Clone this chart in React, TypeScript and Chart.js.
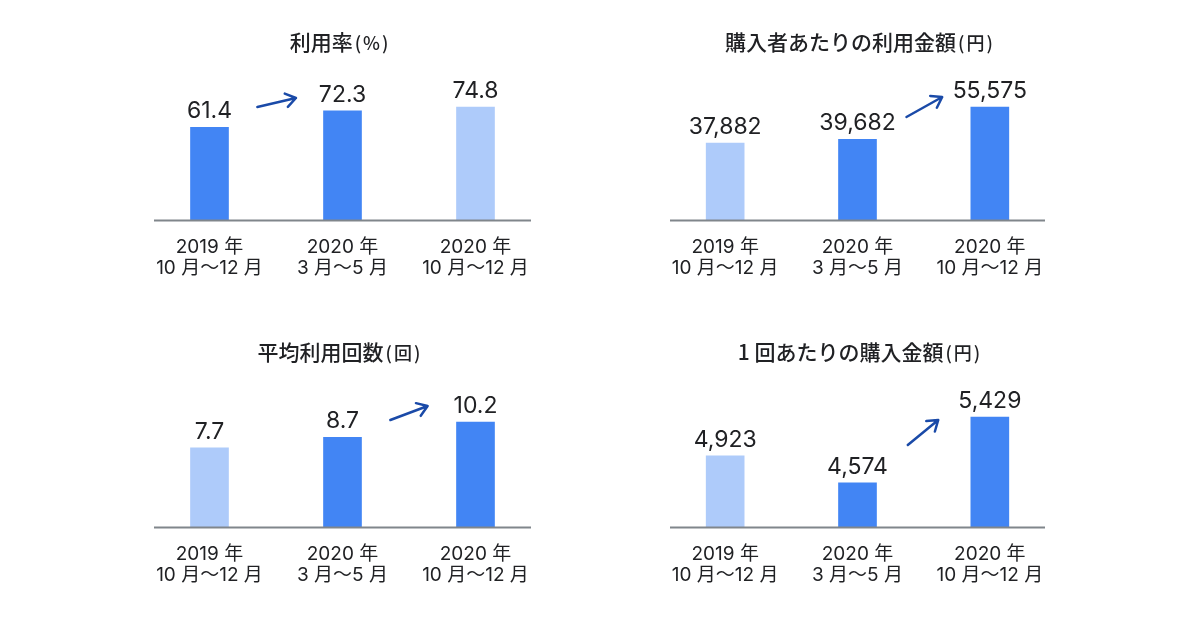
import { useEffect, useRef } from 'react';
import { Chart, registerables, Plugin } from 'chart.js';

Chart.register(...registerables);

const periodLabels = [
  ['2019 年', '10 月〜12 月'],
  ['2020 年', '3 月〜5 月'],
  ['2020 年', '10 月〜12 月'],
];

const usageRate = [61.4, 72.3, 74.8];
const spendPerBuyer = [37882, 39682, 55575];
const usesPerBuyer = [7.7, 8.7, 10.2];
const spendPerUse = [4923, 4574, 5429];

// which bars are drawn in the strong blue
const usageRateDark = [true, true, false];
const spendPerBuyerDark = [false, true, true];
const usesPerBuyerDark = [false, true, true];
const spendPerUseDark = [false, true, true];

// arrows: [category position, value] -> [category position, value]
const usageRateArrow = [[0.36, 74.8], [0.65, 80.8]];
const spendPerBuyerArrow = [[1.37, 50660], [1.64, 60490]];
const usesPerBuyerArrow = [[1.36, 10.39], [1.64, 11.75]];
const spendPerUseArrow = [[1.38, 5065], [1.61, 5390]];

const DARK = '#4285f4';
const LIGHT = '#aecbfa';
const INK = '#202124';
const FONT = "Inter, 'Noto Sans CJK JP', sans-serif";
const CJK = "'Noto Sans CJK JP', sans-serif";

interface PanelProps {
  title: string;
  unit: string;
  values: number[];
  dark: boolean[];
  arrow: number[][];
  yMin: number;
  yMax: number;
  decimals: number;
  left: number;
  top: number;
  height: number;
  padLeft: number;
  padRight: number;
}

function Panel(props: PanelProps) {
  const canvasRef = useRef<HTMLCanvasElement>(null);

  useEffect(() => {
    const ctx = canvasRef.current?.getContext('2d');
    if (!ctx) return;

    const fmt = (v: number) =>
      props.decimals > 0 ? v.toFixed(props.decimals) : v.toLocaleString('en-US');

    const extras: Plugin<'bar'> = {
      id: 'extras',
      afterDatasetsDraw(chart) {
        const c = chart.ctx;
        const area = chart.chartArea;
        const x = chart.scales.x;
        const y = chart.scales.y;

        c.save();

        // title with a smaller unit after it
        c.fillStyle = INK;
        c.textBaseline = 'alphabetic';
        c.textAlign = 'left';
        c.font = `500 21px ${CJK}`;
        const mainW = c.measureText(props.title).width;
        c.font = `500 18px ${CJK}`;
        (c as any).letterSpacing = '2px';
        const unitW = c.measureText(props.unit).width;
        const tx = chart.width / 2 - (mainW + 2 + unitW) / 2;
        (c as any).letterSpacing = '0px';
        c.font = `500 21px ${CJK}`;
        c.fillText(props.title, tx, 30);
        c.font = `500 18px ${CJK}`;
        (c as any).letterSpacing = '2px';
        c.fillText(props.unit, tx + mainW + 2, 30);
        (c as any).letterSpacing = '0px';

        // baseline
        c.strokeStyle = '#80868b';
        c.lineWidth = 2;
        c.beginPath();
        c.moveTo(area.left + 11, area.bottom + 0.5);
        c.lineTo(area.right - 11, area.bottom + 0.5);
        c.stroke();

        // value labels
        c.font = `400 23px ${FONT}`;
        c.textAlign = 'center';
        chart.getDatasetMeta(0).data.forEach((bar, i) => {
          c.fillText(fmt(props.values[i]), bar.x, bar.y - 9);
        });

        // arrow
        const [from, to] = props.arrow;
        const x1 = x.getPixelForValue(from[0]);
        const y1 = y.getPixelForValue(from[1]);
        const x2 = x.getPixelForValue(to[0]);
        const y2 = y.getPixelForValue(to[1]);
        const ang = Math.atan2(y2 - y1, x2 - x1);
        c.strokeStyle = '#1a4aa8';
        c.lineWidth = 2.5;
        c.lineCap = 'round';
        c.lineJoin = 'round';
        c.beginPath();
        c.moveTo(x1, y1);
        c.lineTo(x2, y2);
        c.moveTo(x2 - 12 * Math.cos(ang - 0.6), y2 - 12 * Math.sin(ang - 0.6));
        c.lineTo(x2, y2);
        c.lineTo(x2 - 12 * Math.cos(ang + 0.6), y2 - 12 * Math.sin(ang + 0.6));
        c.stroke();
        c.restore();
      },
    };

    const chart = new Chart(ctx, {
      type: 'bar',
      data: {
        labels: periodLabels,
        datasets: [
          {
            data: props.values,
            backgroundColor: props.dark.map(d => (d ? DARK : LIGHT)),
            barThickness: 38,
          },
        ],
      },
      options: {
        responsive: false,
        animation: false,
        layout: {
          padding: { left: props.padLeft, right: props.padRight, top: 41, bottom: 0 },
        },
        plugins: {
          legend: { display: false },
          tooltip: { enabled: false },
          title: { display: false },
        },
        scales: {
          x: {
            grid: { display: false, drawTicks: false },
            border: { display: false },
            afterFit: scale => {
              scale.height = 70;
            },
            ticks: {
              color: INK,
              padding: 17,
              font: { family: FONT, size: 19, lineHeight: 1.1 },
            },
          },
          y: {
            display: false,
            min: props.yMin,
            max: props.yMax,
          },
        },
      },
      plugins: [extras],
    });

    return () => chart.destroy();
  }, [props]);

  return (
    <div style={{ position: 'absolute', left: props.left, top: props.top, width: 440, height: props.height }}>
      <canvas
        ref={canvasRef}
        width={440}
        height={props.height}
        style={{ width: 440, height: props.height }}
      />
    </div>
  );
}

export default function App() {
  return (
    <div style={{ position: 'fixed', left: 0, top: 0, width: 1200, height: 630, background: '#fff' }}>
      <Panel
        title="利用率"
        unit="(%)"
        values={usageRate}
        dark={usageRateDark}
        arrow={usageRateArrow}
        yMin={0}
        yMax={105.3}
        decimals={1}
        left={120}
        top={20}
        height={270}
        padLeft={23}
        padRight={18}
      />
      <Panel
        title="購入者あたりの利用金額"
        unit="(円)"
        values={spendPerBuyer}
        dark={spendPerBuyerDark}
        arrow={spendPerBuyerArrow}
        yMin={0}
        yMax={78197}
        decimals={0}
        left={640}
        top={20}
        height={270}
        padLeft={19}
        padRight={24}
      />
      <Panel
        title="平均利用回数"
        unit="(回)"
        values={usesPerBuyer}
        dark={usesPerBuyerDark}
        arrow={usesPerBuyerArrow}
        yMin={0}
        yMax={15.15}
        decimals={1}
        left={120}
        top={330}
        height={267}
        padLeft={23}
        padRight={18}
      />
      <Panel
        title="1 回あたりの購入金額"
        unit="(円)"
        values={spendPerUse}
        dark={spendPerUseDark}
        arrow={spendPerUseArrow}
        yMin={4000}
        yMax={6026}
        decimals={0}
        left={640}
        top={330}
        height={267}
        padLeft={19}
        padRight={24}
      />
    </div>
  );
}
